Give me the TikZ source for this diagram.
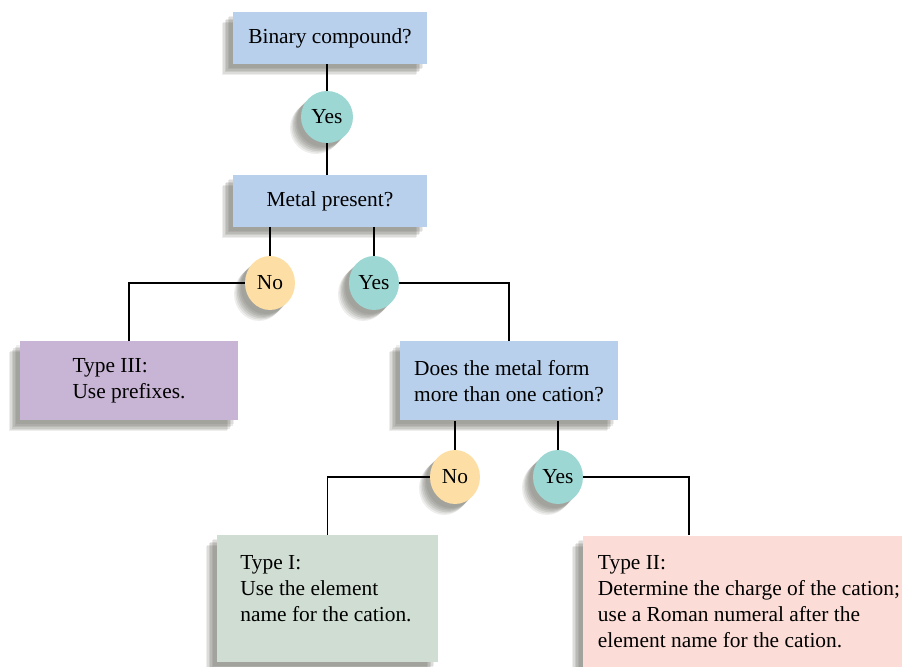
\documentclass[tikz,border=0pt]{standalone}
\usepackage{fontspec}
\setmainfont{Liberation Serif}
\usetikzlibrary{shadows,shapes.geometric}
\definecolor{askblue}{HTML}{B8D0EC}
\definecolor{yesteal}{HTML}{9CD7D3}
\definecolor{noorange}{HTML}{FDDFA6}
\definecolor{typepurple}{HTML}{C8B4D4}
\definecolor{typegreen}{HTML}{CFDDD3}
\definecolor{typepink}{HTML}{FCDCD6}
\definecolor{shade}{HTML}{45443A}
\begin{document}
\begin{tikzpicture}[x=0.5pt, y=-0.5pt, every node/.style={font=\fontsize{10.7}{13}\selectfont}]
  \tikzstyle{soft}=[drop shadow={shadow xshift=-2pt,shadow yshift=-2pt,opacity=.09,fill=shade},
    drop shadow={shadow xshift=-2.7pt,shadow yshift=-2.7pt,opacity=.11,fill=shade},
    drop shadow={shadow xshift=-3.4pt,shadow yshift=-3.4pt,opacity=.12,fill=shade},
    drop shadow={shadow xshift=-4.1pt,shadow yshift=-4.1pt,opacity=.12,fill=shade},
    drop shadow={shadow xshift=-4.8pt,shadow yshift=-4.8pt,opacity=.11,fill=shade},
    drop shadow={shadow xshift=-5.5pt,shadow yshift=-5.5pt,opacity=.09,fill=shade}]
  \tikzstyle{ask}=[soft,fill=askblue,minimum width=97pt,minimum height=26pt,align=left]
  \tikzstyle{answer}=[soft,ellipse,inner sep=0pt,minimum width=25pt,minimum height=27pt]
  \tikzstyle{wire}=[line width=0.55pt]
  \useasboundingbox (0,0) rectangle (902,667);
  \node[ask] (bin) at (330,38) {Binary compound?};
  \node[answer,fill=yesteal,minimum width=26pt,minimum height=26pt] (yes1) at (327,117) {Yes};
  \node[ask] (metal) at (330,201) {Metal present?};
  \node[answer,fill=noorange] (no2) at (270,283) {No};
  \node[answer,fill=yesteal] (yes2) at (374,283) {Yes};
  \node[ask,fill=typepurple,minimum width=109pt,minimum height=39.5pt] (type3) at (129,381) {Type III:\\Use prefixes.};
  \node[ask,minimum width=109pt,minimum height=39.5pt] (cation) at (509,381) {Does the metal form\\more than one cation?};
  \node[answer,fill=noorange] (no3) at (455,477) {No};
  \node[answer,fill=yesteal] (yes3) at (558,477) {Yes};
  \node[soft,fill=typegreen,minimum width=110.5pt,minimum height=63.5pt] (type1) at (327.5,598.5) {};
  \node[anchor=west,inner sep=0pt,align=left] (type1text) at (240,589) {Type I:\\Use the element\\name for the cation.};
  \node[ask,fill=typepink,minimum width=166pt,minimum height=66pt] (type2) at (749,602) {Type II:\\Determine the charge of the cation;\\use a Roman numeral after the\\element name for the cation.};
  \coordinate (type2in) at (689,535);
  \draw[wire] (yes1 |- bin.south) -- (yes1);
  \draw[wire] (yes1) -- (yes1 |- metal.north);
  \draw[wire] (no2 |- metal.south) -- (no2);
  \draw[wire] (yes2 |- metal.south) -- (yes2);
  \draw[wire] (no2.west) -| (type3.north);
  \draw[wire] (yes2.east) -| (cation.north);
  \draw[wire] (no3 |- cation.south) -- (no3);
  \draw[wire] (yes3 |- cation.south) -- (yes3);
  \draw[wire] (no3.west) -| (type1.north);
  \draw[wire] (yes3.east) -| (type2in);
\end{tikzpicture}
\end{document}
